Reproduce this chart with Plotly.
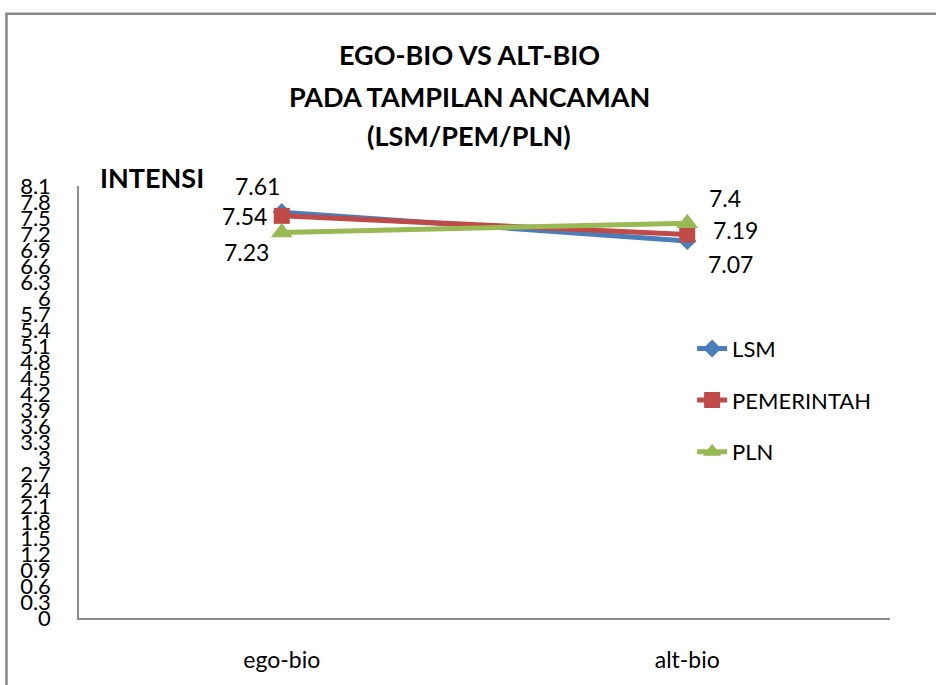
import plotly.graph_objects as go

categories = ["ego-bio", "alt-bio"]
lsm = [7.61, 7.07]
pemerintah = [7.54, 7.19]
pln = [7.23, 7.4]
series_names = ["LSM", "PEMERINTAH", "PLN"]
y_ticks = [round(i * 0.3, 1) for i in range(28)]
y_tick_labels = [("%g" % v) for v in y_ticks]

FONT = "Lato, Carlito, Calibri, sans-serif"
colors = ["#4A7EBB", "#BE4B48", "#98B954"]
symbols = ["diamond", "square", "triangle-up"]
msizes = [14, 16, 19]

fig = go.Figure()
for i, (name, vals) in enumerate(zip(series_names, [lsm, pemerintah, pln])):
    fig.add_trace(go.Scatter(
        x=categories, y=vals, name=name, mode="lines+markers",
        line=dict(color=colors[i], width=5),
        marker=dict(symbol=symbols[i], size=msizes[i], color=colors[i]),
        legendgroup=name,
    ))

# data labels: (series values, point index, xshift, yshift)
label_offsets = [
    (lsm, 0, -24, 26), (lsm, 1, 43, -23),
    (pemerintah, 0, -37, 0), (pemerintah, 1, 48, 5),
    (pln, 0, -35, -20), (pln, 1, 38, 25),
]
for vals, idx, dx, dy in label_offsets:
    fig.add_annotation(x=categories[idx], y=vals[idx], text="%g" % vals[idx],
                       showarrow=False, xshift=dx, yshift=dy,
                       font=dict(family=FONT, size=23, color="#000000"))

title_lines = ["EGO-BIO VS ALT-BIO", "PADA TAMPILAN ANCAMAN", "(LSM/PEM/PLN)"]
for line, yp in zip(title_lines, [1.3045, 1.2068, 1.1159]):
    fig.add_annotation(xref="paper", yref="paper", x=0.4815, y=yp, text="<b>%s</b>" % line,
                       showarrow=False, xanchor="center", yanchor="middle",
                       font=dict(family=FONT, size=27, color="#000000"))

fig.add_annotation(xref="paper", yref="paper", x=0.0234, y=1.0205, text="<b>INTENSI</b>",
                   showarrow=False, xanchor="left", yanchor="middle",
                   font=dict(family=FONT, size=27, color="#000000"))

# outer chart border
fig.add_shape(type="rect", xref="paper", yref="paper", x0=-0.0894, y0=-0.3, x1=1.2, y1=1.399,
              line=dict(color="#868686", width=2.5), fillcolor="rgba(0,0,0,0)", layer="below")

fig.update_layout(
    width=936, height=685,
    margin=dict(l=79, r=46, t=186, b=59),
    paper_bgcolor="white", plot_bgcolor="white",
    font=dict(family=FONT, size=22, color="#000000"),
    showlegend=True,
    legend=dict(x=0.756, y=0.672, xanchor="left", yanchor="top",
                font=dict(family=FONT, size=22, color="#000000"),
                tracegroupgap=20, bgcolor="rgba(0,0,0,0)"),
    xaxis=dict(type="category", range=[-0.5, 1.5], showline=True, linecolor="#8c8c8c",
               linewidth=1.5, ticks="", showgrid=False, zeroline=False,
               ticklabelstandoff=21, tickfont=dict(size=23)),
    yaxis=dict(range=[0, 8.1], tickmode="array", tickvals=y_ticks, ticktext=y_tick_labels,
               showline=True, linecolor="#8c8c8c", linewidth=1.5, ticks="", showgrid=False,
               zeroline=False, ticklabelstandoff=22, tickfont=dict(size=22)),
)

fig.write_html("out.html")
